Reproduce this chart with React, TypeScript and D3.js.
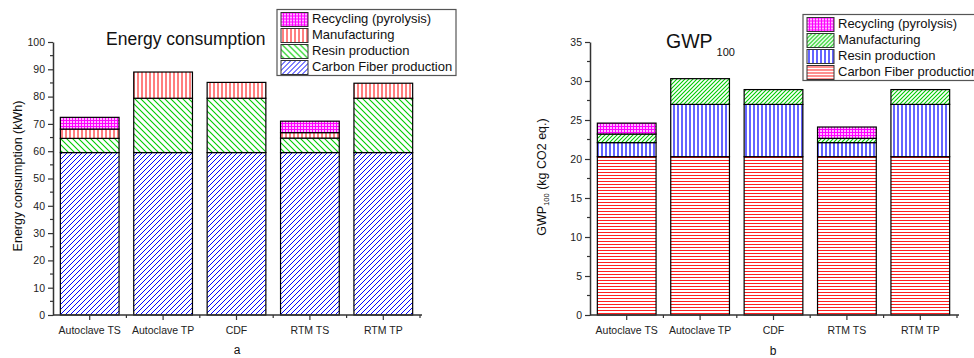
import React, { useEffect, useRef } from "react";
import * as d3 from "d3";

const methods = ["Autoclave TS", "Autoclave TP", "CDF", "RTM TS", "RTM TP"];
const stages = ["Carbon Fiber production", "Resin production", "Manufacturing", "Recycling (pyrolysis)"];

// energy consumption (kWh)
const energyFiber = [59.5, 59.5, 59.5, 59.5, 59.5];
const energyResin = [5.2, 19.9, 19.9, 5.3, 19.9];
const energyManuf = [3.4, 9.6, 5.8, 2.0, 5.5];
const energyRecyc = [4.3, 0, 0, 4.2, 0];

// GWP100 (kg CO2 eq.)
const gwpFiber = [20.3, 20.3, 20.3, 20.3, 20.3];
const gwpResin = [1.8, 6.7, 6.7, 1.8, 6.7];
const gwpManuf = [1.1, 3.3, 1.9, 0.55, 1.9];
const gwpRecyc = [1.4, 0, 0, 1.45, 0];

const energyTicks = [0, 10, 20, 30, 40, 50, 60, 70, 80, 90, 100];
const gwpTicks = [0, 5, 10, 15, 20, 25, 30, 35];

const FONT = "Liberation Sans, Arial, sans-serif";

export default function App() {
  const ref = useRef(null);

  useEffect(() => {
    document.body.style.margin = "0";
    const svg = d3.select(ref.current);
    svg.selectAll("*").remove();
    svg.attr("width", 974).attr("height", 358).style("display", "block").style("font-family", FONT);

    const defs = svg.append("defs");
    const mkPattern = (id, w, h, bg, d, color, sw) => {
      const p = defs.append("pattern").attr("id", id).attr("patternUnits", "userSpaceOnUse")
        .attr("width", w).attr("height", h);
      p.append("rect").attr("width", w).attr("height", h).attr("fill", bg);
      p.append("path").attr("d", d).attr("fill", "none").attr("stroke", color).attr("stroke-width", sw);
    };
    mkPattern("lFiber", 5, 5, "#fff", "M0,5L5,0M-1,1L1,-1M4,6L6,4", "#0000ff", 1);
    mkPattern("lResin", 6, 6, "#fff", "M0,0L6,6M-1,5L1,7M5,-1L7,1", "#00cc00", 1.1);
    mkPattern("lManuf", 4, 4, "#fff", "M2,0V4", "#ff0000", 1);
    mkPattern("recyc", 3, 3, "#ffb8ff", "M0.5,0V3M0,0.5H3", "#ff00ff", 1);
    mkPattern("rFiber", 3, 3, "#fff", "M0,1.5H3", "#ff2020", 1);
    mkPattern("rResin", 4, 4, "#fff", "M2,0V4", "#1010ff", 1.3);
    mkPattern("rManuf", 4, 4, "#fff", "M0,4L4,0M-1,1L1,-1M3,5L5,3", "#00cc00", 1.1);

    const drawPanel = (cfg) => {
      const { x0, x1, yMax, ticks, minor, series, fills, legendX, legendY, legendW } = cfg;
      const rows = methods.map((m, i) => {
        const r = { method: m };
        stages.forEach((s, k) => { r[s] = series[k][i]; });
        return r;
      });
      const x = d3.scaleBand().domain(methods).range([x0, x1]).paddingInner(0.2).paddingOuter(0.1);
      const y = d3.scaleLinear().domain([0, yMax]).range([315, 42]);
      const stacked = d3.stack().keys(stages)(rows);

      const g = svg.append("g");
      stacked.forEach((layer, li) => {
        g.append("g").selectAll("rect").data(layer.filter(v => v[1] - v[0] > 0)).join("rect")
          .attr("x", d => x(d.data.method)).attr("y", d => y(d[1]))
          .attr("width", x.bandwidth()).attr("height", d => y(d[0]) - y(d[1]))
          .attr("fill", `url(#${fills[li]})`)
          .attr("stroke", "#000").attr("stroke-width", 1.2);
      });

      // y axis
      const ya = svg.append("g").attr("transform", `translate(${x0},0)`)
        .call(d3.axisLeft(y).tickValues(ticks).tickSize(5).tickPadding(3).tickSizeOuter(0));
      ya.select(".domain").attr("stroke", "#333").attr("stroke-width", 1.5);
      ya.selectAll(".tick line").attr("stroke", "#333").attr("stroke-width", 1.2);
      ya.selectAll(".tick text").attr("font-family", FONT).attr("font-size", 10.5).attr("fill", "#222");
      svg.append("g").selectAll("line").data(minor).join("line")
        .attr("x1", x0 - 3).attr("x2", x0).attr("y1", d => y(d)).attr("y2", d => y(d))
        .attr("stroke", "#333").attr("stroke-width", 1.2);

      // x axis
      const xa = svg.append("g").attr("transform", "translate(0,315)")
        .call(d3.axisBottom(x).tickSize(5).tickPadding(7).tickSizeOuter(0));
      xa.select(".domain").attr("stroke", "#333").attr("stroke-width", 1.5).attr("d", `M${x0},0H${x1 + 2}`);
      xa.selectAll(".tick line").attr("stroke", "#333").attr("stroke-width", 1.2);
      xa.selectAll(".tick text").attr("font-family", FONT).attr("font-size", 10.5).attr("fill", "#222");
      svg.append("g").selectAll("line").data(methods).join("line")
        .attr("x1", (d, i) => x0 + x.step() * (i + 1)).attr("x2", (d, i) => x0 + x.step() * (i + 1))
        .attr("y1", 315).attr("y2", 318).attr("stroke", "#333").attr("stroke-width", 1.2);

      // legend
      const lg = svg.append("g").attr("transform", `translate(${legendX},${legendY})`);
      lg.append("rect").attr("width", legendW).attr("height", 66).attr("fill", "#fff")
        .attr("stroke", "#555").attr("stroke-width", 1.2);
      [3, 2, 1, 0].forEach((k, j) => {
        lg.append("rect").attr("x", 4).attr("y", 3 + j * 16).attr("width", 27).attr("height", 14)
          .attr("fill", `url(#${fills[k]})`).attr("stroke", "#333").attr("stroke-width", 1);
        lg.append("text").attr("x", 35).attr("y", 10 + j * 16).attr("dominant-baseline", "middle")
          .attr("font-size", 13).attr("fill", "#111").text(stages[k]);
      });
    };

    drawPanel({
      x0: 53, x1: 420, yMax: 100, ticks: energyTicks,
      minor: d3.range(5, 100, 10),
      series: [energyFiber, energyResin, energyManuf, energyRecyc],
      fills: ["lFiber", "lResin", "lManuf", "recyc"],
      legendX: 277, legendY: 9.5, legendW: 179,
    });
    drawPanel({
      x0: 590, x1: 957, yMax: 35, ticks: gwpTicks,
      minor: d3.range(2.5, 35, 5),
      series: [gwpFiber, gwpResin, gwpManuf, gwpRecyc],
      fills: ["rFiber", "rResin", "rManuf", "recyc"],
      legendX: 803, legendY: 14.5, legendW: 190,
    });

    // titles
    svg.append("text").attr("x", 106).attr("y", 45).attr("font-size", 17.5).attr("fill", "#111").text("Energy consumption");
    const t2 = svg.append("text").attr("x", 666).attr("y", 48).attr("font-size", 19.5).attr("fill", "#111");
    t2.append("tspan").text("GWP");
    t2.append("tspan").attr("dx", 4).attr("dy", 8).attr("font-size", 11).text("100");

    // axis labels
    svg.append("text").attr("transform", "translate(22,176) rotate(-90)").attr("text-anchor", "middle")
      .attr("font-size", 12.5).attr("fill", "#111").text("Energy consumption (kWh)");
    const yl = svg.append("text").attr("transform", "translate(546,177) rotate(-90)").attr("text-anchor", "middle")
      .attr("font-size", 12.5).attr("fill", "#111");
    yl.append("tspan").text("GWP");
    yl.append("tspan").attr("dy", 3).attr("font-size", 7.5).text("100");
    yl.append("tspan").attr("dy", -3).text(" (kg CO2 eq.)");

    svg.append("text").attr("x", 237).attr("y", 354).attr("text-anchor", "middle").attr("font-size", 12).attr("fill", "#111").text("a");
    svg.append("text").attr("x", 773).attr("y", 355).attr("text-anchor", "middle").attr("font-size", 12).attr("fill", "#111").text("b");
  }, []);

  return <svg ref={ref}></svg>;
}
